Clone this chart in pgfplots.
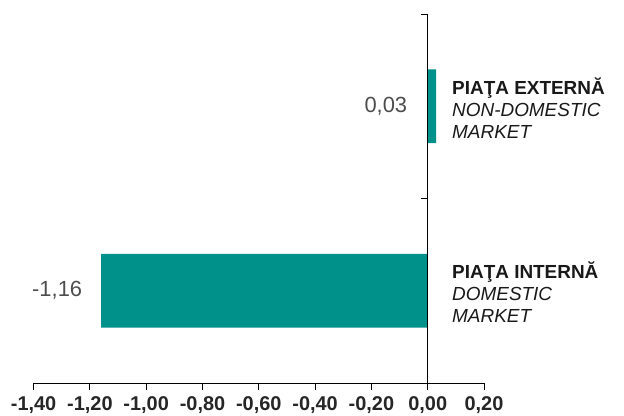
\documentclass[border=0pt]{standalone}
\usepackage{pgfplots}
\pgfplotsset{compat=1.18}
\usepackage{fontspec}
\setmainfont{Liberation Sans}
\definecolor{barteal}{RGB}{0,145,138}
\definecolor{valgrey}{RGB}{77,77,77}
\begin{document}
\begin{tikzpicture}
\useasboundingbox (0,0) rectangle (624bp,416bp);
\begin{axis}[
  at={(33.6bp,33bp)}, anchor=south west,
  scale only axis, width=450.4bp, height=369bp,
  xmin=-1.4, xmax=0.2, ymin=-0.5, ymax=1.5,
  axis x line*=bottom, axis y line=none,
  xtick={-1.4,-1.2,-1.0,-0.8,-0.6,-0.4,-0.2,0,0.2},
  ytick=\empty,
  tick align=outside, major tick length=6.6bp,
  every tick/.style={black, line width=0.9pt},
  x axis line style={black, line width=0.9pt},
  xticklabel style={font=\bfseries\fontsize{20}{20}\selectfont, text=black!85, yshift=-3bp,
    /pgf/number format/.cd, fixed, fixed zerofill, precision=2, use comma, assume math mode=true},
  clip=false,
]
\addplot[xbar, fill=barteal, draw=none, bar width=0.4] coordinates {(-1.16,0) (0.03,1)};
\draw[black, line width=0.9pt] (axis cs:0,-0.5) -- (axis cs:0,1.5);
\draw[black, line width=0.9pt] (axis cs:0,1.5) -- ([xshift=-6.5bp]axis cs:0,1.5);
\draw[black, line width=0.9pt] (axis cs:0,0.5) -- ([xshift=-6.5bp]axis cs:0,0.5);
\node[anchor=east, text=valgrey, font=\fontsize{22}{22}\selectfont, xshift=-15.5bp] at (axis cs:-1.16,0) {-1,16};
\node[anchor=east, text=valgrey, font=\fontsize{22}{22}\selectfont, xshift=-17bp] at (axis cs:0,1) {0,03};
\node[anchor=west, align=left, font=\fontsize{19}{22}\selectfont, text=black!90, xshift=21bp, yshift=-2bp] at (axis cs:0,1)
  {\textbf{PIAŢA EXTERNĂ}\\\textit{NON-DOMESTIC}\\\textit{MARKET}};
\node[anchor=west, align=left, font=\fontsize{19}{22}\selectfont, text=black!90, xshift=21bp, yshift=-1bp] at (axis cs:0,0)
  {\textbf{PIAŢA INTERNĂ}\\\textit{DOMESTIC}\\\textit{MARKET}};
\end{axis}
\end{tikzpicture}
\end{document}
